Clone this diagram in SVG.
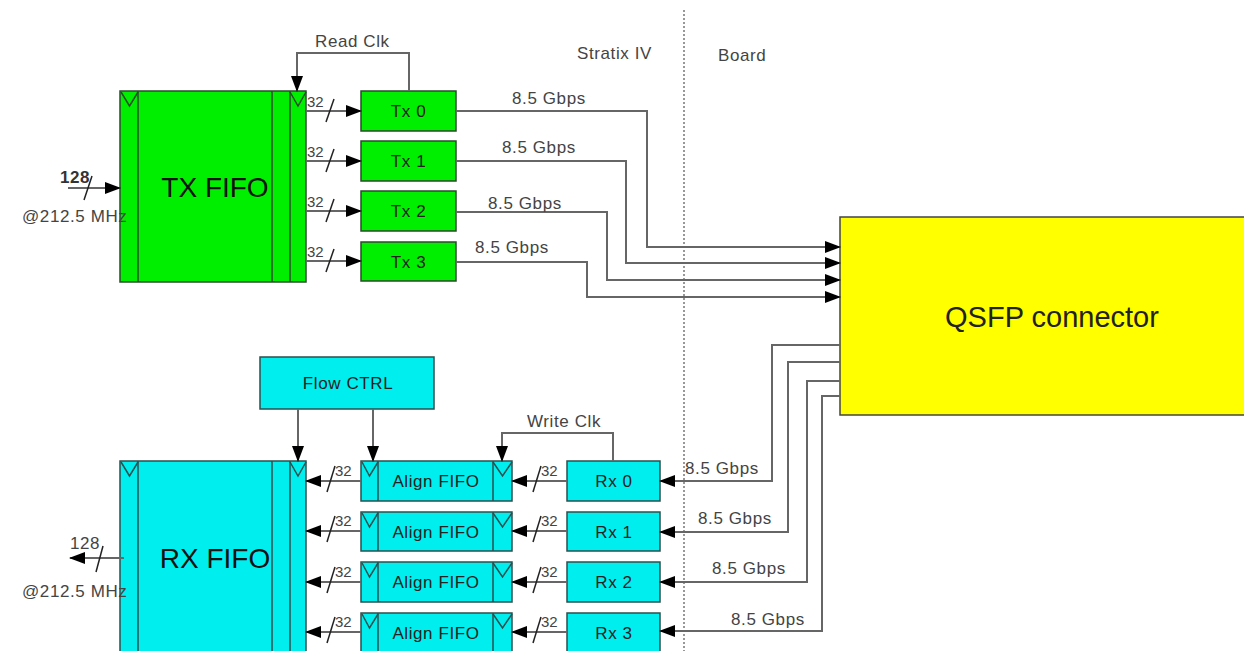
<svg xmlns="http://www.w3.org/2000/svg" width="1244" height="651" viewBox="0 0 1244 651">
<style>
text{font-family:"Liberation Sans",Arial,sans-serif;}
.lbl{font-size:17px;fill:#444;letter-spacing:0.6px;}
.n{font-size:15px;fill:#444;}
.bt{font-size:17px;fill:#222;text-anchor:middle;letter-spacing:0.6px;}
.big{font-size:28px;fill:#111;text-anchor:middle;}
.g{fill:#00ee00;stroke:#2d4a2d;stroke-width:1.5;}
.c{fill:#00eeee;stroke:#2d4f4f;stroke-width:1.5;}
.gl{stroke:#2d4a2d;stroke-width:1.5;fill:none;}
.cl{stroke:#2d4f4f;stroke-width:1.5;fill:none;}
.wa{fill:none;stroke:#666;stroke-width:2;marker-end:url(#ah);}
.sl{stroke:#222;stroke-width:1.5;}
</style>
<defs>
<marker id="ah" markerUnits="userSpaceOnUse" markerWidth="16" markerHeight="12" refX="15" refY="6" orient="auto">
<path d="M0,0 L16,6 L0,12 z" fill="#000"/>
</marker>
</defs>
<rect width="1244" height="651" fill="#fff"/>
<line x1="684" y1="10" x2="684" y2="651" stroke="#777" stroke-width="1.5" stroke-dasharray="2,2"/>
<text class="lbl" x="577" y="59">Stratix IV</text>
<text class="lbl" x="718" y="61">Board</text>

<g id="tx_fifo">
<rect class="g" x="120" y="91" width="186" height="191"/>
<line class="gl" x1="138" y1="91" x2="138" y2="282"/>
<line class="gl" x1="272" y1="91" x2="272" y2="282"/>
<line class="gl" x1="290" y1="91" x2="290" y2="282"/>
<path class="gl" d="M121,92 L129.5,106 L138,92"/>
<path class="gl" d="M290,92 L298,106 L306,92"/>
<text class="big" x="215" y="197">TX FIFO</text>
</g>
<g id="tx0"><rect class="g" x="361" y="91" width="95" height="40"/><text class="bt" x="408.5" y="117">Tx 0</text></g>
<g id="tx1"><rect class="g" x="361" y="141" width="95" height="40"/><text class="bt" x="408.5" y="167">Tx 1</text></g>
<g id="tx2"><rect class="g" x="361" y="191" width="95" height="40"/><text class="bt" x="408.5" y="217">Tx 2</text></g>
<g id="tx3"><rect class="g" x="361" y="242" width="95" height="39"/><text class="bt" x="408.5" y="268">Tx 3</text></g>

<g id="qsfp">
<rect x="840" y="217" width="410" height="198" fill="#ffff00" stroke="#444" stroke-width="1.5"/>
<text x="1052" y="327" style="font-size:29px;fill:#222;text-anchor:middle">QSFP connector</text>
</g>

<g id="flow_ctrl">
<rect class="c" x="260" y="357" width="174" height="52"/>
<text class="bt" x="348" y="389">Flow CTRL</text>
</g>

<g id="rx_fifo">
<rect class="c" x="120" y="461" width="186" height="200"/>
<line class="cl" x1="138" y1="461" x2="138" y2="651"/>
<line class="cl" x1="272" y1="461" x2="272" y2="651"/>
<line class="cl" x1="290" y1="461" x2="290" y2="651"/>
<path class="cl" d="M121,462 L129.5,476 L138,462"/>
<path class="cl" d="M290,462 L298,476 L306,462"/>
<text class="big" x="215" y="568">RX FIFO</text>
</g>

<g id="align0"><rect class="c" x="361" y="461" width="151" height="40"/><line class="cl" x1="378" y1="461" x2="378" y2="501"/><line class="cl" x1="493" y1="461" x2="493" y2="501"/><path class="cl" d="M362,462 L369.5,476 L378,462"/><path class="cl" d="M493,462 L502.5,476 L512,462"/><text class="bt" x="436" y="487">Align FIFO</text></g>
<g id="align1"><rect class="c" x="361" y="512" width="151" height="39"/><line class="cl" x1="378" y1="512" x2="378" y2="551"/><line class="cl" x1="493" y1="512" x2="493" y2="551"/><path class="cl" d="M362,513 L369.5,527 L378,513"/><path class="cl" d="M493,513 L502.5,527 L512,513"/><text class="bt" x="436" y="538">Align FIFO</text></g>
<g id="align2"><rect class="c" x="361" y="562" width="151" height="40"/><line class="cl" x1="378" y1="562" x2="378" y2="602"/><line class="cl" x1="493" y1="562" x2="493" y2="602"/><path class="cl" d="M362,563 L369.5,577 L378,563"/><path class="cl" d="M493,563 L502.5,577 L512,563"/><text class="bt" x="436" y="588">Align FIFO</text></g>
<g id="align3"><rect class="c" x="361" y="613" width="151" height="40"/><line class="cl" x1="378" y1="613" x2="378" y2="653"/><line class="cl" x1="493" y1="613" x2="493" y2="653"/><path class="cl" d="M362,614 L369.5,628 L378,614"/><path class="cl" d="M493,614 L502.5,628 L512,614"/><text class="bt" x="436" y="639">Align FIFO</text></g>

<g id="rx0"><rect class="c" x="567" y="461" width="93" height="40"/><text class="bt" x="614" y="487">Rx 0</text></g>
<g id="rx1"><rect class="c" x="567" y="512" width="93" height="39"/><text class="bt" x="614" y="538">Rx 1</text></g>
<g id="rx2"><rect class="c" x="567" y="562" width="93" height="40"/><text class="bt" x="614" y="588">Rx 2</text></g>
<g id="rx3"><rect class="c" x="567" y="613" width="93" height="40"/><text class="bt" x="614" y="639">Rx 3</text></g>

<g id="connectors">
<path class="wa" d="M409,91 V53 H297 V91"/>
<text class="lbl" x="315" y="47">Read Clk</text>
<path class="wa" d="M68,188 H120"/>
<line class="sl" x1="84" y1="200" x2="92" y2="176"/>
<text class="lbl" x="60" y="183" style="font-weight:bold;fill:#333">128</text>
<text class="lbl" x="22" y="222">@212.5 MHz</text>
<path class="wa" d="M306,111 H361"/>
<path class="wa" d="M306,161 H361"/>
<path class="wa" d="M306,211 H361"/>
<path class="wa" d="M306,261 H361"/>
<line class="sl" x1="326" y1="122" x2="334" y2="99"/>
<line class="sl" x1="326" y1="172" x2="334" y2="149"/>
<line class="sl" x1="326" y1="222" x2="334" y2="199"/>
<line class="sl" x1="326" y1="272" x2="334" y2="249"/>
<text class="n" x="307" y="107">32</text>
<text class="n" x="307" y="157">32</text>
<text class="n" x="307" y="207">32</text>
<text class="n" x="307" y="257">32</text>
<path class="wa" d="M456,111 H647 V247 H840"/>
<path class="wa" d="M456,161 H626 V263 H840"/>
<path class="wa" d="M456,212 H607 V280 H840"/>
<path class="wa" d="M456,262 H587 V297 H840"/>
<text class="lbl" x="512" y="104">8.5 Gbps</text>
<text class="lbl" x="502" y="153">8.5 Gbps</text>
<text class="lbl" x="488" y="209">8.5 Gbps</text>
<text class="lbl" x="475" y="253">8.5 Gbps</text>
<path class="wa" d="M840,345 H772 V481 H660"/>
<path class="wa" d="M840,362 H788 V532 H660"/>
<path class="wa" d="M840,381 H807 V582 H660"/>
<path class="wa" d="M840,396 H822 V631 H660"/>
<text class="lbl" x="685" y="474">8.5 Gbps</text>
<text class="lbl" x="698" y="524">8.5 Gbps</text>
<text class="lbl" x="712" y="574">8.5 Gbps</text>
<text class="lbl" x="731" y="625">8.5 Gbps</text>
<path class="wa" d="M613,461 V433 H502 V461"/>
<text class="lbl" x="527" y="427">Write Clk</text>
<path class="wa" d="M298,409 V461"/>
<path class="wa" d="M373,409 V461"/>
<path class="wa" d="M567,481 H512"/>
<path class="wa" d="M567,531 H512"/>
<path class="wa" d="M567,582 H512"/>
<path class="wa" d="M567,632 H512"/>
<line class="sl" x1="533" y1="492" x2="541" y2="466"/>
<line class="sl" x1="533" y1="542" x2="541" y2="516"/>
<line class="sl" x1="533" y1="593" x2="541" y2="567"/>
<line class="sl" x1="533" y1="643" x2="541" y2="617"/>
<text class="n" x="541" y="476">32</text>
<text class="n" x="541" y="526">32</text>
<text class="n" x="541" y="577">32</text>
<text class="n" x="541" y="627">32</text>
<path class="wa" d="M361,481 H306"/>
<path class="wa" d="M361,531 H306"/>
<path class="wa" d="M361,582 H306"/>
<path class="wa" d="M361,632 H306"/>
<line class="sl" x1="327" y1="492" x2="335" y2="466"/>
<line class="sl" x1="327" y1="542" x2="335" y2="516"/>
<line class="sl" x1="327" y1="593" x2="335" y2="567"/>
<line class="sl" x1="327" y1="643" x2="335" y2="617"/>
<text class="n" x="335" y="476">32</text>
<text class="n" x="335" y="526">32</text>
<text class="n" x="335" y="577">32</text>
<text class="n" x="335" y="627">32</text>
<path class="wa" d="M124,558 H70"/>
<line class="sl" x1="96" y1="572" x2="103" y2="546"/>
<text class="lbl" x="70" y="549">128</text>
<text class="lbl" x="22" y="597">@212.5 MHz</text>
</g>
</svg>
